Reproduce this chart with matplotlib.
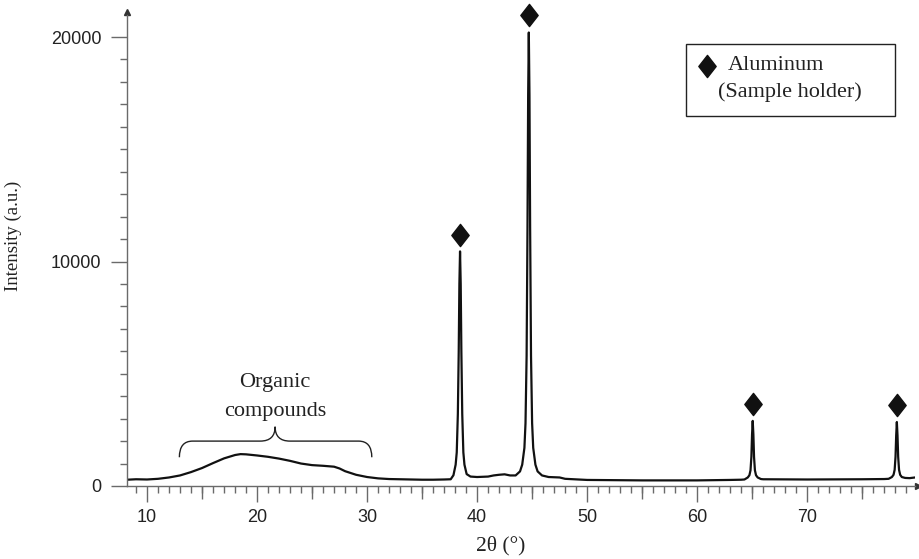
import numpy as np
import matplotlib
matplotlib.use("Agg")
import matplotlib.pyplot as plt
from matplotlib.path import Path
from matplotlib.patches import PathPatch, Rectangle
from matplotlib.ticker import MultipleLocator

# ── data ────────────────────────────────────────────────────
bg_x = [8.2, 9, 10, 11, 12, 13, 14, 15, 16, 17, 18, 18.5, 19, 20, 21, 22,
        23, 24, 25, 26, 27, 27.5, 28, 29, 30, 31, 32, 33, 34, 35, 36, 37,
        37.6, 39.4, 40, 41, 41.5, 42, 42.5, 43, 45.9, 46.5, 47.5, 48, 50,
        55, 60, 63, 64, 66, 70, 75, 77, 79.3, 79.8]
bg_y = [280, 300, 290, 320, 380, 470, 620, 800, 1020, 1230, 1380, 1420,
        1410, 1360, 1300, 1220, 1120, 1000, 930, 900, 860, 780, 660, 500,
        400, 340, 310, 300, 290, 280, 280, 290, 300, 420, 400, 420, 470,
        500, 520, 470, 470, 400, 380, 320, 270, 250, 250, 270, 280, 300,
        290, 300, 310, 350, 380]

pk1_x = [37.85, 38.05, 38.15, 38.25, 38.33, 38.39, 38.45, 38.51, 38.57,
         38.65, 38.75, 38.85, 39.05]
pk1_y = [480, 950, 1500, 3200, 6000, 9000, 10450, 9000, 6000, 3200, 1500,
         950, 530]

pk2_x = [43.5, 43.9, 44.1, 44.3, 44.4, 44.5, 44.58, 44.64, 44.7, 44.76,
         44.82, 44.9, 45.0, 45.1, 45.3, 45.5]
pk2_y = [470, 650, 950, 1700, 2800, 5800, 11500, 17400, 20200, 17400,
         11500, 5800, 2800, 1700, 950, 650]

pk3_x = [64.3, 64.6, 64.75, 64.85, 64.93, 64.99, 65.05, 65.11, 65.17,
         65.25, 65.35, 65.5, 65.8]
pk3_y = [290, 380, 480, 700, 1300, 2300, 2900, 2300, 1300, 700, 480, 380,
         310]

pk4_x = [77.4, 77.7, 77.85, 77.95, 78.03, 78.09, 78.15, 78.21, 78.27,
         78.35, 78.45, 78.6, 78.9]
pk4_y = [320, 400, 500, 720, 1300, 2250, 2850, 2250, 1300, 720, 500, 400,
         360]

al_pos = [38.45, 44.7, 65.05, 78.15]
al_mark_y = [11180, 20970, 3650, 3610]

x_ticks = [10, 20, 30, 40, 50, 60, 70]
y_ticks = [0, 10000, 20000]

SERIF = "Liberation Serif"
SANS = "Liberation Sans"
AXC = "#6a6a6a"

tt = np.array(bg_x + pk1_x + pk2_x + pk3_x + pk4_x)
ii = np.array(bg_y + pk1_y + pk2_y + pk3_y + pk4_y)
order = np.argsort(tt)
tt, ii = tt[order], ii[order]

# diamond a bit taller than wide
diamond = Path([(0, 1), (0.78, 0), (0, -1), (-0.78, 0), (0, 1)],
               [Path.MOVETO, Path.LINETO, Path.LINETO, Path.LINETO,
                Path.CLOSEPOLY])

fig = plt.figure(figsize=(9.2, 5.59), dpi=100)
ax = fig.add_axes([127 / 920, 1 - 486 / 559, (915 - 127) / 920, (486 - 15) / 559])

ax.plot(tt, ii, color="#111111", lw=1.6, solid_joinstyle="round")
ax.plot(al_pos, al_mark_y, ls="none", marker=diamond, ms=16,
        color="#111111", clip_on=False)

ax.set_xlim(8.18, 79.8)
ax.set_ylim(0, 20980)

for s in ["top", "right"]:
    ax.spines[s].set_visible(False)
for s in ["left", "bottom"]:
    ax.spines[s].set_color(AXC)
    ax.spines[s].set_linewidth(1.0)

ax.set_xticks(x_ticks)
ax.set_yticks(y_ticks)
ax.xaxis.set_minor_locator(MultipleLocator(1))
ax.yaxis.set_minor_locator(MultipleLocator(1000))
ax.tick_params(which="major", length=11.5, width=1.0, color=AXC,
               labelsize=13, labelcolor="#222222", pad=5)
ax.tick_params(axis="y", which="major", pad=7)
ax.tick_params(which="minor", length=5, width=1.0, color=AXC)
for lab in ax.get_xticklabels() + ax.get_yticklabels():
    lab.set_fontfamily(SANS)

# medium ticks every 5 degrees
sec = ax.secondary_xaxis("bottom")
sec.set_xticks([15, 25, 35, 45, 55, 65, 75])
sec.tick_params(length=9.4, width=1.0, color=AXC, labelbottom=False)
sec.spines["bottom"].set_visible(False)

# axis arrows
ax.plot([0], [1.006], marker="^", ms=5, color="#333333",
        transform=ax.transAxes, clip_on=False)
ax.plot([1.004], [0], marker=">", ms=5, color="#333333",
        transform=ax.transAxes, clip_on=False)

ax.set_xlabel("2θ (°)", fontsize=15.5, family=SERIF, color="#222222")
ax.xaxis.set_label_coords((501 - 127) / 788, -(536 - 486) / 471)
ax.set_ylabel("Intensity (a.u.)", fontsize=13.5, family=SERIF,
              color="#222222")
ax.yaxis.set_label_coords(-(127 - 22) / 788, (486 - 236) / 471)

# curly brace over the organic hump
bx0, bx1, btip, bbase, bline, btop = 12.94, 30.43, 21.64, 1280, 2000, 2640
verts = [(bx0, bbase), (bx0, bline), (bx0 + 1.2, bline),
         (btip - 1.35, bline), (btip, bline), (btip, btop),
         (btip, bline), (btip + 1.35, bline),
         (bx1 - 1.2, bline), (bx1, bline), (bx1, bbase)]
codes = [Path.MOVETO, Path.CURVE3, Path.CURVE3,
         Path.LINETO, Path.CURVE3, Path.CURVE3,
         Path.CURVE3, Path.CURVE3,
         Path.LINETO, Path.CURVE3, Path.CURVE3]
ax.add_patch(PathPatch(Path(verts, codes), fill=False, lw=1.0,
                       edgecolor="#222222"))
ax.text(btip, 4590, "Organic", ha="center", va="center", fontsize=16,
        family=SERIF, color="#222222")
ax.text(btip, 3310, "compounds", ha="center", va="center", fontsize=16,
        family=SERIF, color="#222222")

# legend box
def fx(px):
    return (px - 127) / 788


def fy(py):
    return (486 - py) / 471


ax.add_patch(Rectangle((fx(686), fy(116)), fx(895) - fx(686),
                       fy(44) - fy(116), transform=ax.transAxes,
                       fill=False, lw=1.0, edgecolor="#222222",
                       clip_on=False))
ax.plot([fx(707)], [fy(65.5)], marker=diamond, ms=16, color="#111111",
        transform=ax.transAxes, clip_on=False)
ax.text(fx(728), fy(66), "Aluminum", ha="left", va="center", fontsize=16,
        family=SERIF, color="#222222", transform=ax.transAxes)
ax.text(fx(718), fy(92), "(Sample holder)", ha="left", va="center",
        fontsize=16, family=SERIF, color="#222222", transform=ax.transAxes)

fig.savefig("out.png", dpi=100, facecolor="white")
